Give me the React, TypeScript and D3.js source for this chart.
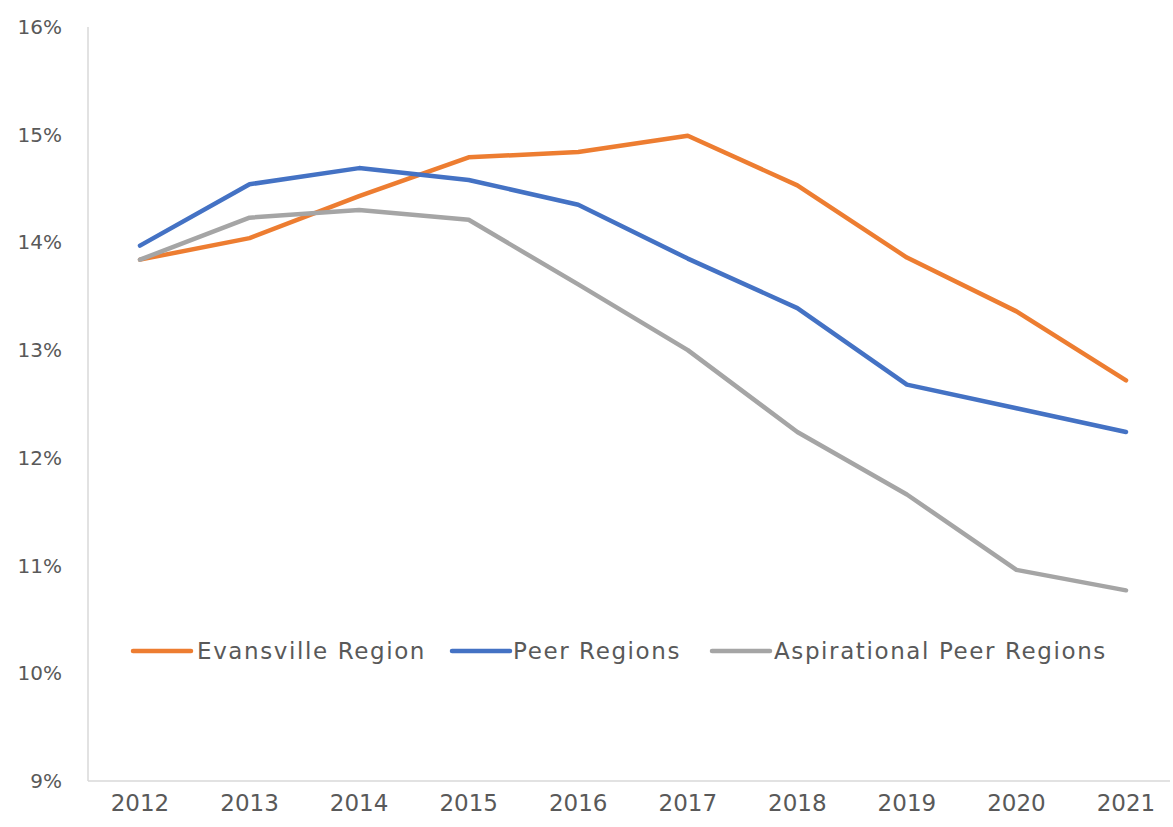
import React from "react";
import * as d3 from "d3";

const years = ["2012", "2013", "2014", "2015", "2016", "2017", "2018", "2019", "2020", "2021"];
const evansville = [13.84, 14.04, 14.43, 14.79, 14.84, 14.99, 14.53, 13.86, 13.36, 12.72];
const peer = [13.97, 14.54, 14.69, 14.58, 14.35, 13.85, 13.39, 12.68, 12.46, 12.24];
const aspirational = [13.84, 14.23, 14.3, 14.21, 13.61, 13.0, 12.24, 11.66, 10.96, 10.77];
const yTicks = [9, 10, 11, 12, 13, 14, 15, 16];

const seriesNames = ["Evansville Region", "Peer Regions", "Aspirational Peer Regions"];
const seriesColors = ["#ED7D31", "#4472C4", "#A5A5A5"];
const seriesData = [evansville, peer, aspirational];

const W = 1173;
const H = 827;

export default function App() {
  const x = d3.scalePoint<string>().domain(years).range([140, 1126]);
  const y = d3.scaleLinear().domain([9, 16]).range([781, 27]);
  const line = d3
    .line<number>()
    .x((_, i) => x(years[i]) as number)
    .y((d) => y(d));

  const font = "'DejaVu Sans', sans-serif";
  const textColor = "#595959";
  const legendItems = [
    { lx: 133, tx: 197 },
    { lx: 452, tx: 513 },
    { lx: 712, tx: 774 },
  ];

  return (
    <div style={{ position: "fixed", left: 0, top: 0 }}>
      <svg width={W} height={H} style={{ display: "block", background: "#fff" }}>
        <line x1={88} x2={88} y1={27} y2={781} stroke="#d9d9d9" strokeWidth={1.5} />
        <line x1={88} x2={1170} y1={781} y2={781} stroke="#d9d9d9" strokeWidth={1.5} />
        {yTicks.map((t) => (
          <text
            key={t}
            x={62}
            y={y(t)}
            textAnchor="end"
            dominantBaseline="central"
            fontFamily={font}
            fontSize={20}
            fill={textColor}
          >
            {t}%
          </text>
        ))}
        {years.map((yr) => (
          <text
            key={yr}
            x={x(yr)}
            y={803}
            textAnchor="middle"
            dominantBaseline="central"
            fontFamily={font}
            fontSize={23}
            fill={textColor}
          >
            {yr}
          </text>
        ))}
        {seriesData.map((s, i) => (
          <path
            key={seriesNames[i]}
            d={line(s) || ""}
            fill="none"
            stroke={seriesColors[i]}
            strokeWidth={4.5}
            strokeLinejoin="round"
            strokeLinecap="round"
          />
        ))}
        {seriesNames.map((n, i) => (
          <g key={n}>
            <line
              x1={legendItems[i].lx}
              x2={legendItems[i].lx + 58}
              y1={651}
              y2={651}
              stroke={seriesColors[i]}
              strokeWidth={4.5}
              strokeLinecap="round"
            />
            <text
              x={legendItems[i].tx}
              y={651}
              dominantBaseline="central"
              fontFamily={font}
              fontSize={23}
              fill={textColor}
              letterSpacing={1.6}
            >
              {n}
            </text>
          </g>
        ))}
      </svg>
    </div>
  );
}
